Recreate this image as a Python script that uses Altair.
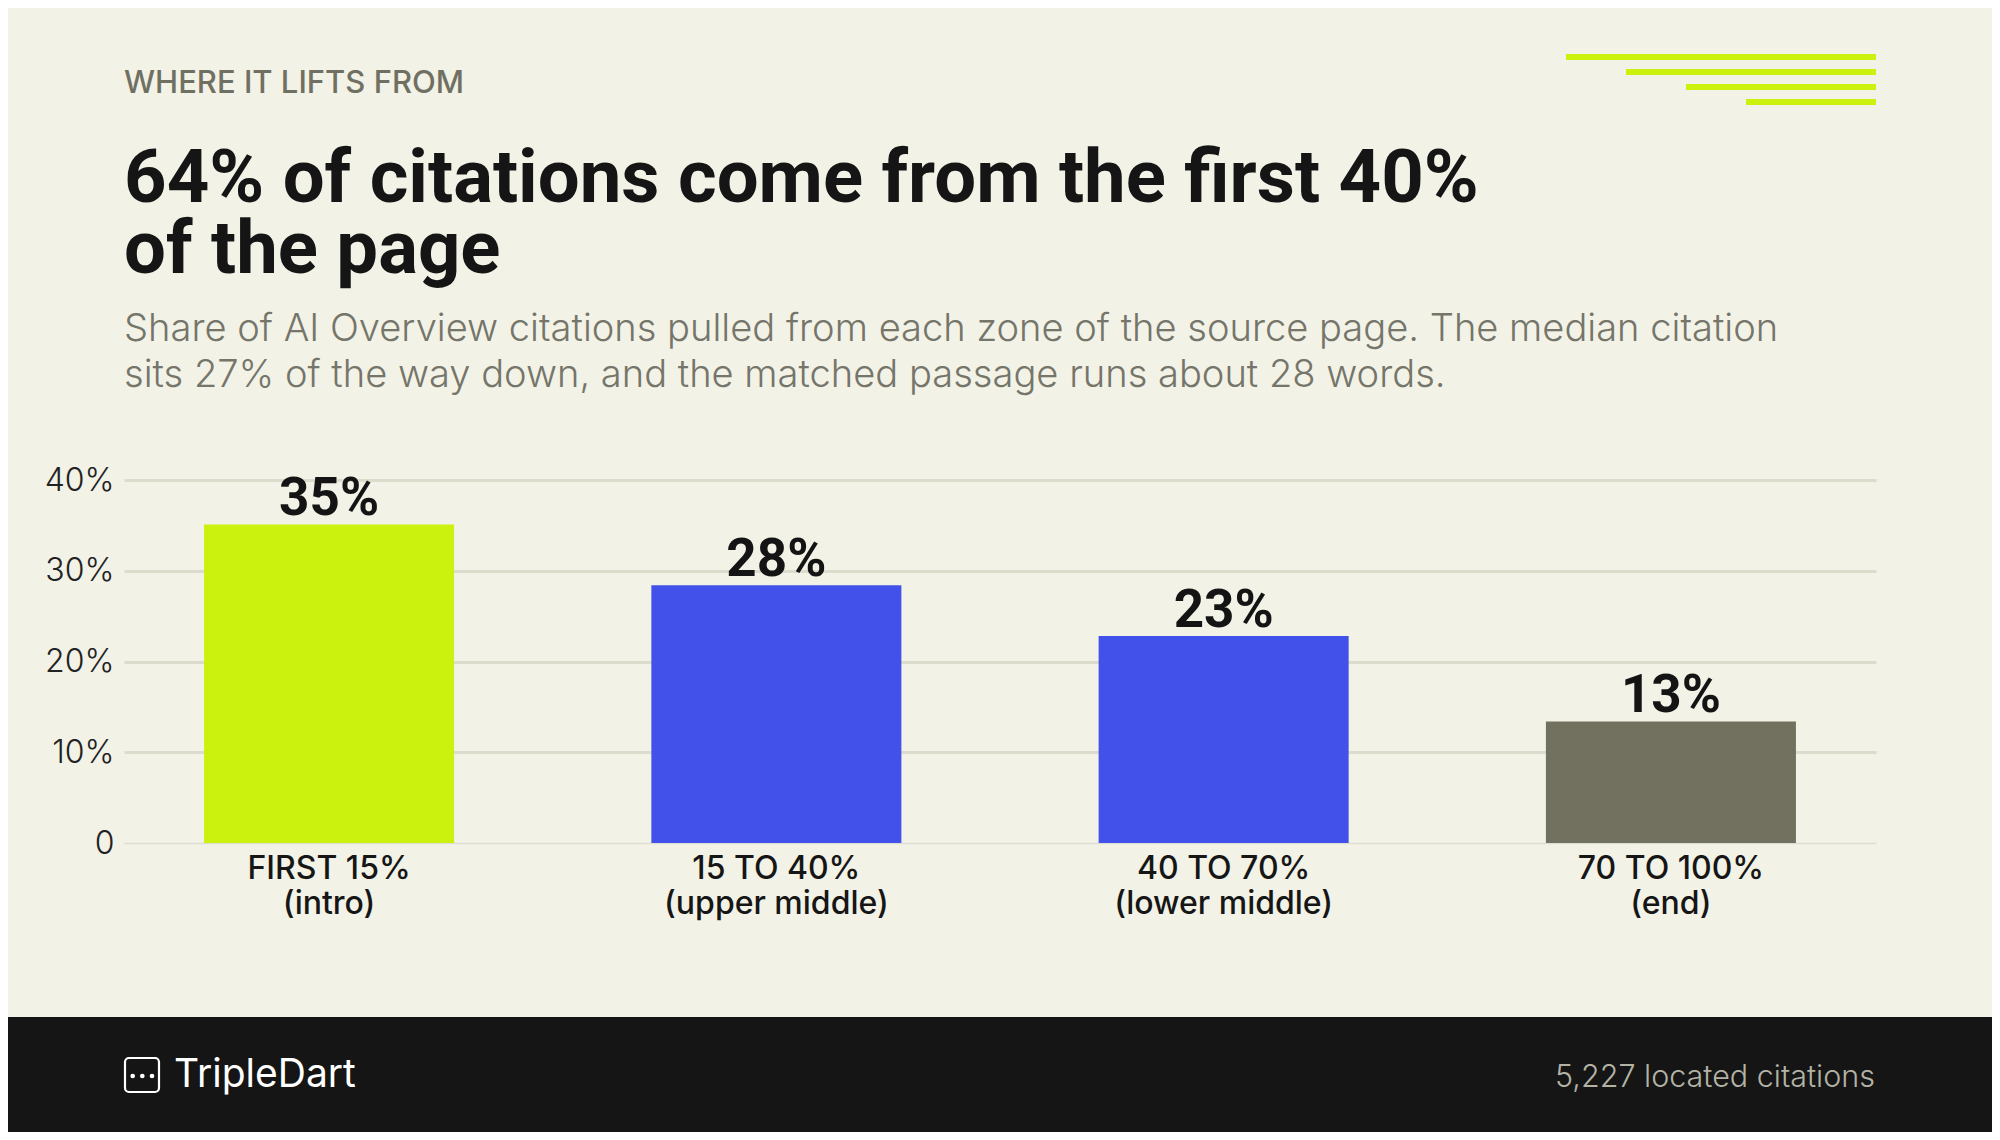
import altair as alt
import pandas as pd

# ---- data ----
zones = ["FIRST 15%|(intro)", "15 TO 40%|(upper middle)", "40 TO 70%|(lower middle)", "70 TO 100%|(end)"]
shares = [35.1, 28.4, 22.8, 13.4]
value_labels = ["35%", "28%", "23%", "13%"]
bar_colors = ["#CBF20F", "#4151E9", "#4151E9", "#72705F"]
y_ticks = [0, 10, 20, 30, 40]

eyebrow = "WHERE IT LIFTS FROM"
title = "64% of citations come from the first 40%\nof the page"
subtitle = ("Share of AI Overview citations pulled from each zone of the source page. The median citation\n"
            "sits 27% of the way down, and the matched passage runs about 28 words.")
brand = "TripleDart"
footnote = "5,227 located citations"

FONT = "Inter"
BOLD_FONT = "Roboto"
BG = "#F2F2E7"
LIME = "#CBF20F"

df = pd.DataFrame({"zone": zones, "share": shares, "label": value_labels})

x_enc = alt.X(
    "zone:N", sort=zones,
    scale=alt.Scale(paddingInner=0.441, paddingOuter=0.179),
    axis=alt.Axis(title=None, labelExpr="split(datum.label, '|')", labelAngle=0,
                  labelFont=FONT, labelFontSize=32, labelFontWeight=500, labelColor="#161616",
                  labelLineHeight=35, labelPadding=10, labelLimit=0,
                  domain=False, ticks=False, grid=False),
)
y_enc = alt.Y(
    "share:Q",
    scale=alt.Scale(domain=[0, 40], nice=False, zero=True),
    axis=alt.Axis(values=y_ticks, title=None,
                  labelExpr="datum.value == 0 ? '0' : datum.value + '%'",
                  labelFont=FONT, labelFontSize=32, labelFontWeight=300, labelColor="#222222",
                  labelPadding=10, domain=False, ticks=False,
                  gridColor={"condition": {"test": "datum.value === 0", "value": "#DEDED3"}, "value": "#DCDCCD"},
                  gridWidth={"condition": {"test": "datum.value === 0", "value": 1.5}, "value": 3}),
)

base = alt.Chart(df)
bars = base.mark_bar().encode(
    x=x_enc, y=y_enc,
    color=alt.Color("zone:N", scale=alt.Scale(domain=zones, range=bar_colors), legend=None),
)
vals = base.mark_text(dy=-9, baseline="alphabetic", font=BOLD_FONT, fontSize=53, fontWeight=700,
                      color="#141414").encode(x=alt.X("zone:N", sort=zones), y="share:Q", text="label:N")


def one(text):
    return alt.Chart(pd.DataFrame({"t": [text]}))


blank = pd.DataFrame({"t": [""]})

eyebrow_l = one(eyebrow).mark_text(align="left", baseline="alphabetic", font=FONT, fontSize=31,
                                   fontWeight=500, color="#707062").encode(
    x=alt.value(0), y=alt.value(-387), text="t:N")
title_l = one(title).mark_text(align="left", baseline="alphabetic", font=BOLD_FONT, fontSize=74.3,
                               fontWeight=700, color="#151515", lineBreak="\n", lineHeight=71).encode(
    x=alt.value(0), y=alt.value(-278), text="t:N")
sub_l = one(subtitle).mark_text(align="left", baseline="alphabetic", font=FONT, fontSize=38.1,
                                fontWeight=300, color="#75756A", lineBreak="\n", lineHeight=46).encode(
    x=alt.value(0), y=alt.value(-139), text="t:N")

deco = []
for xs, yy in [(1442, -423), (1502, -408), (1562, -393), (1622, -378)]:
    deco.append(alt.Chart(blank).mark_rule(color=LIME, strokeWidth=6).encode(
        x=alt.value(xs), x2=alt.value(1752), y=alt.value(yy)))

footer = alt.Chart(blank).mark_rect(color="#151515").encode(
    x=alt.value(-116), x2=alt.value(1868), y=alt.value(537), y2=alt.value(652))
logo_box = alt.Chart(blank).mark_rect(fillOpacity=0, stroke="white", strokeWidth=2.2, cornerRadius=4).encode(
    x=alt.value(1), x2=alt.value(35), y=alt.value(578), y2=alt.value(612))
dots = [alt.Chart(blank).mark_circle(size=22, color="white", opacity=1).encode(x=alt.value(dx), y=alt.value(596))
        for dx in (8.7, 18.3, 28)]
brand_l = one(brand).mark_text(align="left", baseline="alphabetic", font=FONT, fontSize=39,
                               fontWeight=400, color="#FFFFFF").encode(
    x=alt.value(50), y=alt.value(607), text="t:N")
foot_l = one(footnote).mark_text(align="right", baseline="alphabetic", font=FONT, fontSize=30.5,
                                 fontWeight=300, color="#B3B3A5").encode(
    x=alt.value(1751), y=alt.value(607), text="t:N")

chart = alt.layer(
    bars, vals, eyebrow_l, title_l, sub_l, *deco, footer, logo_box, *dots, brand_l, foot_l
).properties(
    width=1752, height=363,
    background=BG,
    padding={"left": 116, "top": 472, "right": 116, "bottom": 289},
    autosize=alt.AutoSizeParams(type="none"),
).configure_view(stroke=None)

chart.save("out.html", embed_options={"renderer": "svg", "actions": False})
